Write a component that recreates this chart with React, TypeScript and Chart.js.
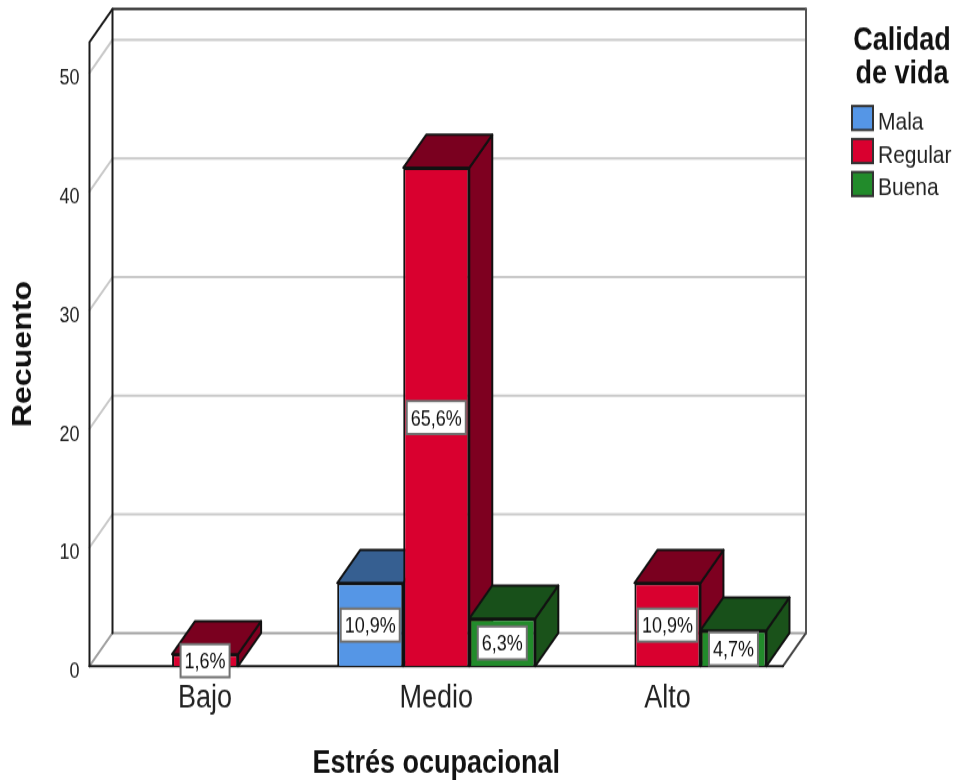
import React, { useEffect, useRef } from "react";
import { Chart, registerables } from "chart.js";

Chart.register(...registerables);

const categories = ["Bajo", "Medio", "Alto"];
const seriesNames = ["Mala", "Regular", "Buena"];
const mala = [null, 7, null];
const regular = [1, 42, 7];
const buena = [null, 4, 3];
const malaPct = ["", "10,9%", ""];
const regularPct = ["1,6%", "65,6%", "10,9%"];
const buenaPct = ["", "6,3%", "4,7%"];
const yTicks = [0, 10, 20, 30, 40, 50];
const legendTitle = ["Calidad", "de vida"];
const xTitle = "Estrés ocupacional";
const yTitle = "Recuento";

const frontColors = ["#5596E6", "#D9002F", "#228B2B"];
const topColors = ["#365F91", "#7A001F", "#18501A"];
const sideColors = ["#2F5584", "#7E0020", "#1A521A"];
const pctLabels = [malaPct, regularPct, buenaPct];

// The reference picture is the chart stretched vertically; draw at the
// unstretched height and let CSS do the same stretch.
const WIDTH = 957;
const HEIGHT = 780;
const STRETCH = 1.189;
const INNER_H = Math.round(HEIGHT / STRETCH);
const v = (px: number) => px / STRETCH;

const DX = 23;
const DY = v(-33);
const FONT = "'Liberation Sans', Arial, sans-serif";

function poly(ctx: CanvasRenderingContext2D, pts: number[][], fill: string | null, stroke: string | null, lw = 2) {
  ctx.beginPath();
  pts.forEach((p, i) => (i ? ctx.lineTo(p[0], p[1]) : ctx.moveTo(p[0], p[1])));
  ctx.lineJoin = "round";
  ctx.lineCap = "round";
  if (fill) {
    ctx.closePath();
    ctx.fillStyle = fill;
    ctx.fill();
  }
  if (stroke) {
    ctx.strokeStyle = stroke;
    ctx.lineWidth = lw;
    ctx.stroke();
  }
}

const wallsPlugin = {
  id: "walls",
  beforeDatasetsDraw(chart: any) {
    const { ctx, chartArea: a, scales } = chart;
    const y = scales.y;
    ctx.save();
    yTicks.slice(1).forEach((t) => {
      const py = y.getPixelForValue(t);
      poly(ctx, [[a.left, py], [a.left + DX, py + DY], [a.right + DX, py + DY]], null, "#C9C9C9", 2);
    });
    poly(ctx, [[a.left, a.bottom], [a.left + DX, a.bottom + DY], [a.right + DX, a.bottom + DY]], null, "#A0A0A0", 2);
    poly(ctx, [[a.right + DX, a.bottom + DY], [a.right, a.bottom]], null, "#444", 2);
    poly(ctx, [[a.left, a.bottom], [a.left, a.top], [a.left + DX, a.top + DY], [a.right + DX, a.top + DY]], null, "#1c1c1c", 2);
    poly(ctx, [[a.left + DX, a.top + DY], [a.left + DX, a.bottom + DY]], null, "#1c1c1c", 2);
    poly(ctx, [[a.right + DX, a.top + DY], [a.right + DX, a.bottom + DY]], null, "#555", 2);
    poly(ctx, [[a.left, a.bottom], [a.right, a.bottom]], null, "#1c1c1c", 2);

    const items: any[] = [];
    chart.data.datasets.forEach((ds: any, di: number) => {
      chart.getDatasetMeta(di).data.forEach((bar: any, i: number) => {
        if (ds.data[i] != null) items.push({ bar, di });
      });
    });
    items.sort((p, q) => p.bar.x - q.bar.x);
    items.forEach(({ bar, di }) => {
      const l = bar.x - bar.width / 2;
      const r = bar.x + bar.width / 2;
      const t = bar.y;
      const b = bar.base;
      poly(ctx, [[r, t], [r + DX, t + DY], [r + DX, b + DY], [r, b]], sideColors[di], "#111", 2);
      poly(ctx, [[l, t], [l + DX, t + DY], [r + DX, t + DY], [r, t]], topColors[di], "#111", 2);
    });
    ctx.restore();
  },
  afterDatasetsDraw(chart: any) {
    const { ctx } = chart;
    ctx.save();
    ctx.font = `18px ${FONT}`;
    ctx.textAlign = "center";
    ctx.textBaseline = "middle";
    chart.data.datasets.forEach((ds: any, di: number) => {
      chart.getDatasetMeta(di).data.forEach((bar: any, i: number) => {
        const txt = pctLabels[di][i];
        if (ds.data[i] == null || !txt) return;
        const cy = (bar.y + bar.base) / 2 + 0.5;
        const w = ctx.measureText(txt).width + 8;
        const h = v(33);
        ctx.fillStyle = "#fff";
        ctx.strokeStyle = "#707070";
        ctx.lineWidth = 2;
        ctx.fillRect(bar.x - w / 2, cy - h / 2, w, h);
        ctx.strokeRect(bar.x - w / 2, cy - h / 2, w, h);
        ctx.fillStyle = "#111";
        ctx.fillText(txt, bar.x, cy + 1.5);
      });
    });
    ctx.restore();
  },
  afterDraw(chart: any) {
    const { ctx } = chart;
    ctx.save();
    ctx.fillStyle = "#111";
    ctx.textAlign = "center";
    ctx.textBaseline = "middle";
    ctx.font = `bold 27px ${FONT}`;
    legendTitle.forEach((s, i) => ctx.fillText(s, 902, v(41 + i * 33)));
    ctx.textAlign = "left";
    ctx.font = `21px ${FONT}`;
    seriesNames.forEach((s, i) => {
      const top = v(106 + i * 33);
      ctx.fillStyle = frontColors[i];
      ctx.strokeStyle = "#333";
      ctx.lineWidth = 2;
      ctx.fillRect(852, top, 21, v(24));
      ctx.strokeRect(852, top, 21, v(24));
      ctx.fillStyle = "#222";
      ctx.fillText(s, 878, top + v(16.5));
    });
    ctx.restore();
  },
};

export default function App() {
  const ref = useRef<HTMLCanvasElement>(null);
  useEffect(() => {
    document.body.style.margin = "0";
    const chart = new Chart(ref.current!, {
      type: "bar",
      data: {
        labels: categories,
        datasets: [mala, regular, buena].map((d, i) => ({
          label: seriesNames[i],
          data: d,
          backgroundColor: frontColors[i],
          borderColor: "#111",
          borderWidth: 2,
          categoryPercentage: 0.857,
          barPercentage: 1,
        })),
      },
      options: {
        animation: false,
        responsive: false,
        devicePixelRatio: 1,
        layout: { padding: { top: v(42), right: 174, left: 0, bottom: 0 } },
        plugins: { legend: { display: false }, tooltip: { enabled: false } },
        scales: {
          x: {
            grid: { display: false, drawTicks: false },
            border: { display: false },
            ticks: { color: "#222", font: { family: FONT, size: 27 }, padding: 11.5, maxRotation: 0 },
            title: {
              display: true,
              text: xTitle,
              color: "#111",
              padding: 0,
              font: { family: FONT, size: 27, weight: "bold", lineHeight: 1 },
            },
            afterFit: (s: any) => {
              s.height = INNER_H - v(666);
            },
          },
          y: {
            min: 0,
            max: 52.6,
            grid: { display: false, drawTicks: false },
            border: { display: false },
            afterBuildTicks: (s: any) => {
              s.ticks = yTicks.map((value) => ({ value }));
            },
            ticks: { color: "#222", font: { family: FONT, size: 18 }, padding: 10, labelOffset: v(6) },
            title: {
              display: true,
              text: yTitle,
              color: "#111",
              padding: 7,
              font: { family: FONT, size: 27, weight: "bold", lineHeight: 1.2 },
            },
            afterFit: (s: any) => {
              s.width = 89.5;
            },
          },
        },
      },
      plugins: [wallsPlugin],
    } as any);
    return () => chart.destroy();
  }, []);
  return (
    <div style={{ width: WIDTH, height: HEIGHT, overflow: "hidden" }}>
      <div style={{ width: WIDTH, height: INNER_H, transform: `scaleY(${HEIGHT / INNER_H})`, transformOrigin: "0 0" }}>
        <canvas ref={ref} width={WIDTH} height={INNER_H} style={{ display: "block" }} />
      </div>
    </div>
  );
}
